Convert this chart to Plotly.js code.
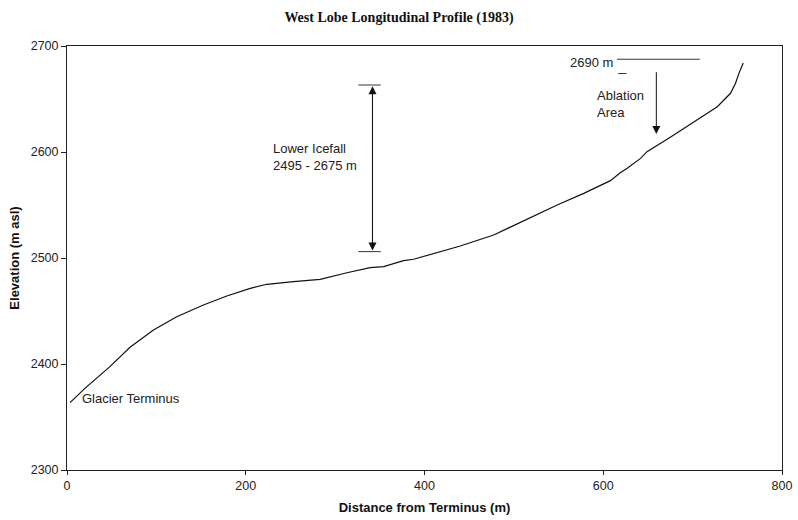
<!DOCTYPE html>
<html>
<head>
<meta charset="utf-8">
<script src="https://cdn.plot.ly/plotly-3.0.1.min.js"></script>
<style>html,body{margin:0;padding:0;background:#fff;}#chart{width:798px;height:520px;}</style>
</head>
<body>
<div id="chart"></div>
<script>
const distance = [3.4, 20, 48, 70.5, 96.7, 122.8, 152.6, 178.8, 205, 223.6, 253.4, 283.3, 313.2, 339.3, 354.2, 376.6, 387.8, 417.7, 440, 477.4, 511, 548.4, 578.2, 608, 619, 626.8, 641.7, 649, 675, 701.4, 727.6, 742.4, 748, 751.8, 756.6];
const elevation = [2363.5, 2377, 2397.5, 2415.8, 2432, 2444.6, 2455.7, 2464.2, 2471.4, 2475.2, 2477.7, 2479.9, 2486.1, 2491, 2491.8, 2497.5, 2498.8, 2506, 2511.3, 2521.7, 2535.2, 2550, 2561, 2573, 2580.5, 2584.6, 2594, 2600.3, 2613.9, 2628.6, 2642.7, 2655.4, 2664.8, 2674.2, 2684];
const xTicks = [0, 200, 400, 600, 800];
const yTicks = [2300, 2400, 2500, 2600, 2700];
const titleText = "West Lobe Longitudinal Profile (1983)";
const xTitle = "Distance from Terminus (m)";
const yTitle = "Elevation (m asl)";

const font = "Liberation Sans, Arial, sans-serif";
const trace = {x: distance, y: elevation, mode: "lines", line: {color: "#111", width: 1.2}, hoverinfo: "skip"};

const arrow = {xref: "x", yref: "y", axref: "x", ayref: "y", text: "", showarrow: true, arrowhead: 2, arrowsize: 1.6, arrowwidth: 1, arrowcolor: "#111"};

const layout = {
  width: 798, height: 520,
  margin: {l: 67, r: 16, t: 46, b: 50},
  paper_bgcolor: "#fff", plot_bgcolor: "#fff",
  showlegend: false,
  title: {text: "<b>" + titleText + "</b>", font: {family: "Liberation Serif, Times New Roman, serif", size: 14, color: "#111"}, x: 0.5, xanchor: "center", y: 0.967, yanchor: "middle"},
  xaxis: {range: [0, 800], tickvals: xTicks, ticktext: xTicks.map(String), showgrid: false, zeroline: false,
    showline: true, mirror: true, linecolor: "#222", linewidth: 1, ticks: "outside", ticklen: 4, tickcolor: "#222",
    tickfont: {family: font, size: 12.5, color: "#222"},
    title: {text: "<b>" + xTitle + "</b>", font: {family: font, size: 13, color: "#111"}, standoff: 10}},
  yaxis: {range: [2300, 2700], tickvals: yTicks, ticktext: yTicks.map(String), showgrid: false, zeroline: false,
    showline: true, mirror: true, linecolor: "#222", linewidth: 1, ticks: "outside", ticklen: 5, tickcolor: "#222",
    tickfont: {family: font, size: 12.5, color: "#222"},
    title: {text: "<b>" + yTitle + "</b>", font: {family: font, size: 13, color: "#111"}, standoff: 8}},
  shapes: [
    {type: "line", xref: "x", yref: "y", x0: 326, x1: 351, y0: 2663.2, y1: 2663.2, line: {color: "#333", width: 1}},
    {type: "line", xref: "x", yref: "y", x0: 326, x1: 351, y0: 2506, y1: 2506, line: {color: "#333", width: 1}},
    {type: "line", xref: "x", yref: "y", x0: 615.5, x1: 708, y0: 2687.5, y1: 2687.5, line: {color: "#333", width: 1}},
    {type: "line", xref: "x", yref: "y", x0: 616.7, x1: 626, y0: 2674, y1: 2674, line: {color: "#333", width: 1}}
  ],
  annotations: [
    Object.assign({x: 341.8, y: 2662, ax: 341.8, ay: 2507}, arrow),
    Object.assign({x: 341.8, y: 2507, ax: 341.8, ay: 2662}, arrow),
    Object.assign({x: 659.4, y: 2617, ax: 659.4, ay: 2676.7}, arrow),
    {x: 228, y: 2595, xref: "x", yref: "y", text: "Lower Icefall<br>2495 - 2675 m", showarrow: false, xanchor: "left", yanchor: "middle", align: "left", font: {family: font, size: 13, color: "#222"}},
    {x: 561, y: 2684, xref: "x", yref: "y", text: "2690 m", showarrow: false, xanchor: "left", yanchor: "middle", align: "left", font: {family: font, size: 13, color: "#222"}},
    {x: 591, y: 2645, xref: "x", yref: "y", text: "Ablation<br>Area", showarrow: false, xanchor: "left", yanchor: "middle", align: "left", font: {family: font, size: 13, color: "#222"}},
    {x: 14, y: 2367, xref: "x", yref: "y", text: "Glacier Terminus", showarrow: false, xanchor: "left", yanchor: "middle", align: "left", font: {family: font, size: 13, color: "#222"}}
  ]
};
Plotly.newPlot("chart", [trace], layout, {displayModeBar: false, staticPlot: true});
</script>
</body>
</html>
